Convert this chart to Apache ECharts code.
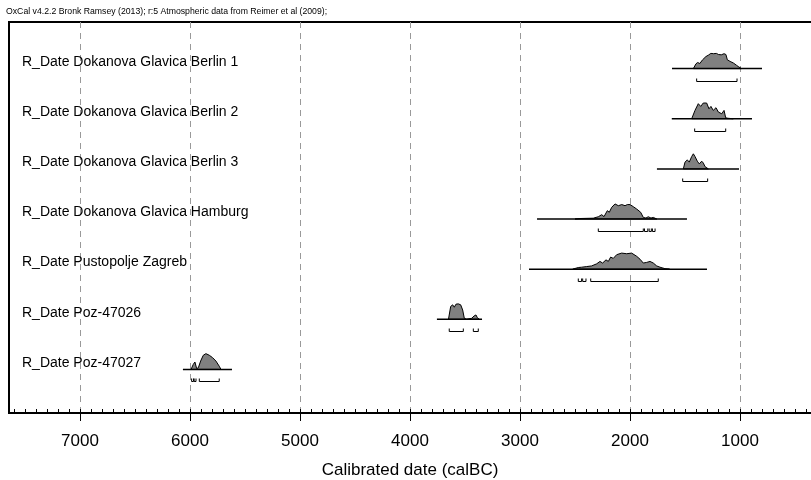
<!DOCTYPE html>
<html>
<head>
<meta charset="utf-8">
<title>OxCal multiplot</title>
<script src="https://cdn.jsdelivr.net/npm/echarts@6/dist/echarts.min.js"></script>
<style>
html, body { margin: 0; padding: 0; background: #fff; }
#chart { width: 811px; height: 480px; }
</style>
</head>
<body>
<div id="chart"></div>
<script>
var header = 'OxCal v4.2.2 Bronk Ramsey (2013); r:5 Atmospheric data from Reimer et al (2009);';
var axisTitle = 'Calibrated date (calBC)';

// one entry per row, top to bottom
var names = [
    'R_Date Dokanova Glavica Berlin 1',
    'R_Date Dokanova Glavica Berlin 2',
    'R_Date Dokanova Glavica Berlin 3',
    'R_Date Dokanova Glavica Hamburg',
    'R_Date Pustopolje Zagreb',
    'R_Date Poz-47026',
    'R_Date Poz-47027'
];

// extent of the base line under each curve (calBC)
var curveSpans = [
    [1618, 800],
    [1620, 891],
    [1755, 1009],
    [2845, 1482],
    [2918, 1300],
    [3755, 3345],
    [6064, 5618]
];

// calibrated probability, [year calBC, relative density]
var densities = [
    [[1424, 0], [1400, 0.3], [1385, 0.38], [1365, 0.32], [1340, 0.55], [1310, 0.75], [1285, 0.85], [1265, 0.95],
     [1240, 0.93], [1215, 0.95], [1195, 0.88], [1170, 0.86], [1145, 0.93], [1128, 0.88], [1115, 0.55], [1090, 0.45],
     [1060, 0.35], [1030, 0.2], [1010, 0.1], [985, 0]],
    [[1439, 0], [1409, 0.52], [1379, 0.94], [1357, 0.77], [1334, 0.98], [1303, 0.98], [1282, 0.62], [1264, 0.77],
     [1243, 0.52], [1218, 0.69], [1197, 0.42], [1166, 0.31], [1145, 0.52], [1130, 0.06], [1110, 0.03], [1061, 0]],
    [[1515, 0], [1500, 0.42], [1479, 0.56], [1461, 0.42], [1439, 0.77], [1424, 0.94], [1409, 0.77], [1388, 0.48],
     [1370, 0.31], [1348, 0.48], [1333, 0.36], [1318, 0.14], [1288, 0]],
    [[2500, 0], [2455, 0.03], [2334, 0.05], [2288, 0.14], [2257, 0.27], [2236, 0.15], [2206, 0.52], [2188, 0.42],
     [2166, 0.73], [2136, 0.94], [2106, 0.83], [2075, 0.9], [2045, 0.83], [2024, 0.9], [2000, 0.9], [1970, 0.77],
     [1939, 0.62], [1903, 0.42], [1879, 0.1], [1855, 0.06], [1834, 0.14], [1809, 0.06], [1788, 0.1], [1757, 0]],
    [[2520, 0], [2470, 0.1], [2440, 0.12], [2394, 0.16], [2349, 0.2], [2303, 0.33], [2273, 0.48], [2249, 0.38],
     [2218, 0.58], [2197, 0.48], [2176, 0.75], [2152, 0.67], [2121, 0.9], [2076, 1.0], [2030, 0.96], [1985, 1.0],
     [1939, 0.8], [1909, 0.62], [1879, 0.38], [1848, 0.42], [1818, 0.48], [1788, 0.38], [1757, 0.2], [1727, 0.12],
     [1682, 0.03], [1640, 0]],
    [[3650, 0], [3630, 0.8], [3612, 0.9], [3597, 0.75], [3582, 0.94], [3561, 0.96], [3539, 0.9], [3521, 0.58],
     [3506, 0.06], [3485, 0], [3439, 0.06], [3418, 0.2], [3400, 0.27], [3388, 0.1], [3370, 0]],
    [[5990, 0], [5970, 0.31], [5955, 0.46], [5939, 0.05], [5924, 0.1], [5903, 0.52], [5879, 0.88], [5855, 0.98],
     [5824, 0.88], [5794, 0.73], [5764, 0.52], [5734, 0.2], [5718, 0]]
];

// 95.4% ranges under each curve, [from, to] calBC
var ranges = [
    [[1394, 1027]],
    [[1412, 1130]],
    [[1521, 1294]],
    [[2288, 1879], [1868, 1838], [1826, 1806], [1796, 1772]],
    [[2470, 2440], [2430, 2400], [2357, 1743]],
    [[3643, 3515], [3424, 3379]],
    [[5985, 5968], [5962, 5945], [5915, 5734]]
];

var FONT = '"Liberation Sans", Arial, Helvetica, sans-serif';
var TOP_ROW = 6.87;  // y value of the first base line
var PEAK = 0.32;     // full density height in y units

function rowBase(i) {
    return TOP_ROW - i;
}

function renderRow(params, api) {
    var i = params.dataIndex;
    var base = rowBase(i);
    var children = [];

    var pts = densities[i].map(function (d) {
        return api.coord([d[0], base + d[1] * PEAK]);
    });
    children.push({
        type: 'polygon',
        shape: { points: pts },
        style: { fill: '#808080', stroke: '#000', lineWidth: 1 }
    });

    var a = api.coord([curveSpans[i][0], base]);
    var b = api.coord([curveSpans[i][1], base]);
    children.push({
        type: 'line',
        shape: { x1: a[0], y1: a[1], x2: b[0], y2: b[1] },
        style: { stroke: '#000', lineWidth: 1.5 }
    });

    ranges[i].forEach(function (r) {
        var p = api.coord([r[0], base]);
        var q = api.coord([r[1], base]);
        var y = Math.round(p[1] + 12) + 0.5;
        children.push({
            type: 'polyline',
            shape: { points: [[p[0], y - 3], [p[0], y], [q[0], y], [q[0], y - 3]] },
            style: { stroke: '#000', fill: 'none', lineWidth: 1 }
        });
    });

    children.push({
        type: 'text',
        style: {
            text: names[i],
            x: 22,
            y: a[1] - 6.5,
            align: 'left',
            verticalAlign: 'middle',
            font: '14px ' + FONT,
            fill: '#000'
        }
    });

    return { type: 'group', children: children };
}

var dom = document.getElementById('chart');
var myChart = echarts.init(dom);
var option = {
    animation: false,
    title: {
        text: header,
        left: 6,
        top: 7,
        padding: 0,
        textStyle: { fontSize: 8.7, fontWeight: 'normal', color: '#000', fontFamily: FONT }
    },
    grid: {
        left: 9,
        right: -39,
        top: 22,
        bottom: 67,
        containLabel: false,
        outerBoundsMode: 'none',
        show: true,
        borderColor: '#000',
        borderWidth: 2,
        backgroundColor: 'transparent'
    },
    xAxis: [
        {
            type: 'value',
            inverse: true,
            min: 0,
            max: 7645,
            interval: 1000,
            position: 'bottom',
            axisLine: { show: false },
            axisTick: { show: true, inside: false, length: 8, lineStyle: { color: '#000', width: 1 } },
            axisLabel: {
                fontSize: 17, color: '#000', margin: 20, fontFamily: FONT,
                showMinLabel: false, showMaxLabel: false,
                formatter: function (v) { return String(v); }
            },
            splitLine: {
                show: true, showMinLine: false, showMaxLine: false,
                lineStyle: { color: '#999', type: [6, 5], width: 1 }
            },
            name: axisTitle,
            nameLocation: 'middle',
            nameGap: 49,
            nameTextStyle: { fontSize: 17, color: '#000', fontFamily: FONT, padding: [0, 39, 0, 0] }
        },
        {
            type: 'value',
            inverse: true,
            min: 0,
            max: 7645,
            interval: 100,
            position: 'bottom',
            axisLine: { show: false },
            axisTick: { show: true, inside: true, length: 4, lineStyle: { color: '#000', width: 1 } },
            axisLabel: { show: false },
            splitLine: { show: false }
        }
    ],
    yAxis: { type: 'value', min: 0, max: 7.8, show: false },
    series: [
        {
            type: 'custom',
            coordinateSystem: 'cartesian2d',
            xAxisIndex: 0,
            yAxisIndex: 0,
            silent: true,
            clip: false,
            renderItem: renderRow,
            data: names.map(function (n, i) {
                return [curveSpans[i][0], rowBase(i)];
            })
        }
    ]
};
myChart.setOption(option);
</script>
</body>
</html>
